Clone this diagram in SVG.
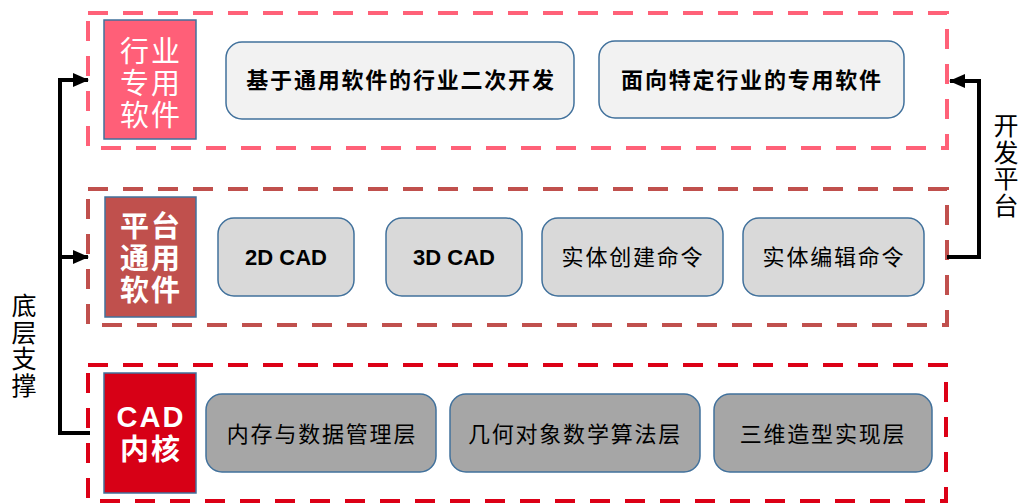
<svg xmlns="http://www.w3.org/2000/svg" width="1021" height="503" viewBox="0 0 1021 503">
<defs>
<marker id="ah" markerUnits="userSpaceOnUse" markerWidth="16" markerHeight="14" refX="15" refY="7" orient="auto">
<path d="M0,0 L16,7 L0,14 Z" fill="#000"/>
</marker>
<style>
.t{font-family:"Liberation Sans","Noto Sans CJK SC",sans-serif;text-anchor:middle;dominant-baseline:central}
.layer{fill:none;stroke-width:4;stroke-dasharray:20 15}
.lab{stroke:#41719C;stroke-width:1.5}
.box{stroke:#41719C;stroke-width:1.5}
.lt{fill:#fff;font-size:29px;letter-spacing:2px}
.bt{fill:#000;font-size:22px;letter-spacing:1.8px}
.ct{fill:#000;font-size:22px;font-weight:bold}
.conn{fill:none;stroke:#000;stroke-width:4}
.side{fill:#000;font-size:25px;letter-spacing:1.5px;writing-mode:vertical-rl}
</style>
</defs>

<g id="layer-industry">
<rect class="layer" x="88" y="13" width="859" height="135" stroke="#FF6178"/>
<rect class="lab" x="104" y="20" width="92" height="119" fill="#FF5F78"/>
<text class="t lt" x="151" y="52">行业</text>
<text class="t lt" x="151" y="84">专用</text>
<text class="t lt" x="151" y="116">软件</text>
</g>
<g id="node-secondary-dev">
<rect class="box" x="226" y="42" width="348" height="77" rx="16" fill="#F2F2F2"/>
<text class="t bt" x="401" y="80" font-weight="bold">基于通用软件的行业二次开发</text>
</g>
<g id="node-specific-software">
<rect class="box" x="599" y="41" width="305" height="77" rx="16" fill="#F2F2F2"/>
<text class="t bt" x="752" y="80" font-weight="bold">面向特定行业的专用软件</text>
</g>

<g id="layer-platform">
<rect class="layer" x="88" y="189" width="859" height="136" stroke="#C0504D"/>
<rect class="lab" x="105" y="197" width="91" height="120" fill="#C0504D"/>
<text class="t lt" x="151" y="227" font-weight="bold">平台</text>
<text class="t lt" x="151" y="259" font-weight="bold">通用</text>
<text class="t lt" x="151" y="291" font-weight="bold">软件</text>
</g>
<g id="node-2dcad">
<rect class="box" x="218" y="218" width="136" height="78" rx="16" fill="#D9D9D9"/>
<text class="t ct" x="286" y="257">2D CAD</text>
</g>
<g id="node-3dcad">
<rect class="box" x="386" y="218" width="136" height="78" rx="16" fill="#D9D9D9"/>
<text class="t ct" x="454" y="257">3D CAD</text>
</g>
<g id="node-solid-create">
<rect class="box" x="542" y="218" width="181" height="78" rx="16" fill="#D9D9D9"/>
<text class="t bt" x="633" y="257">实体创建命令</text>
</g>
<g id="node-solid-edit">
<rect class="box" x="743" y="218" width="181" height="78" rx="16" fill="#D9D9D9"/>
<text class="t bt" x="834" y="257">实体编辑命令</text>
</g>

<g id="layer-kernel">
<rect class="layer" x="88" y="365" width="858" height="136" stroke="#DC0016" stroke-dasharray="15 12"/>
<rect class="lab" x="104" y="373" width="92" height="120" fill="#D70016"/>
<text class="t lt" x="151" y="417" font-weight="bold" letter-spacing="0">CAD</text>
<text class="t lt" x="151" y="450" font-weight="bold">内核</text>
</g>
<g id="node-memory">
<rect class="box" x="206" y="394" width="230" height="78" rx="16" fill="#A6A6A6"/>
<text class="t bt" x="322" y="434">内存与数据管理层</text>
</g>
<g id="node-geometry">
<rect class="box" x="450" y="394" width="250" height="78" rx="16" fill="#A6A6A6"/>
<text class="t bt" x="575" y="434">几何对象数学算法层</text>
</g>
<g id="node-modeling">
<rect class="box" x="714" y="394" width="218" height="78" rx="16" fill="#A6A6A6"/>
<text class="t bt" x="823" y="434">三维造型实现层</text>
</g>

<g id="connectors">
<path class="conn" d="M90,433 H60 V80 H88" marker-end="url(#ah)"/>
<path class="conn" d="M60,257 H88" marker-end="url(#ah)"/>
<path class="conn" d="M947,257 H979 V81 H950" marker-end="url(#ah)"/>
</g>

<g id="label-bottom-support">
<text class="side" font-family="Liberation Sans, Noto Sans CJK SC, sans-serif" x="22" y="293">底层支撑</text>
</g>
<g id="label-dev-platform">
<text class="side" font-family="Liberation Sans, Noto Sans CJK SC, sans-serif" x="1004" y="113">开发平台</text>
</g>
</svg>
